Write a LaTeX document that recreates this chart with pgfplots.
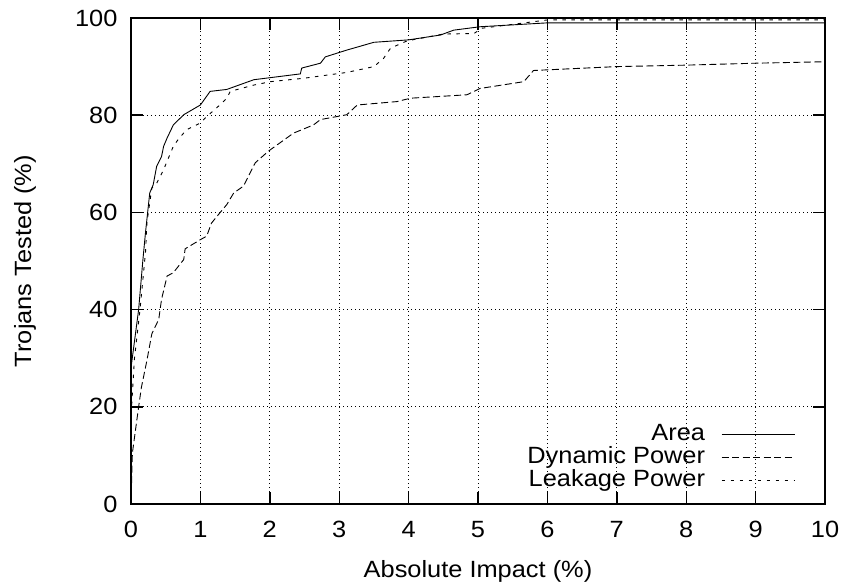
\documentclass[border=0pt]{standalone}
\usepackage{fontspec}
\setmainfont[FakeStretch=1.08]{Liberation Sans}
\usepackage{pgfplots}
\pgfplotsset{compat=1.18}
\newcommand{\bigf}{\fontsize{23.5}{28}\selectfont}
\begin{document}
\begin{tikzpicture}
\begin{axis}[
  scale only axis, width=694pt, height=486pt,
  xmin=0, xmax=10, ymin=0, ymax=100,
  xtick={0,1,...,10}, ytick={0,20,...,100},
  tick label style={font=\bigf},
  /pgf/number format/assume math mode=true,
  xticklabel style={yshift=-14pt},
  yticklabel style={xshift=-10pt},
  axis line style={line width=1.6pt},
  major tick length=12pt,
  tick style={line width=1.4pt, black},
  grid=major,
  major grid style={black, line width=0.9pt, dash pattern=on 1pt off 3pt},
  every axis x label/.style={at={(axis description cs:0.5,-0.1379)}, anchor=center, font=\bigf},
  every axis y label/.style={at={(axis description cs:-0.1527,0.5)}, rotate=90, anchor=center, font=\bigf},
  xlabel={Absolute Impact (\%)},
  ylabel={Trojans Tested (\%)},
  legend plot pos=right,
  legend cell align=right,
  legend style={at={(1,0)}, anchor=south east, xshift=-30pt, yshift=12pt,
    draw=none, fill=none, inner sep=0pt, outer sep=0pt, font=\bigf,
    nodes={inner ysep=0.5pt, inner xsep=0pt, text height=17pt, text depth=5pt}},
  legend image code/.code={\path (0pt,0pt); \draw[#1] (16pt,0pt) -- (89pt,0pt);},
]
\addplot[black, line width=0.9pt] coordinates {
(0,0) (0,28) (0.11,40) (0.17,50) (0.21,56) (0.27,64) (0.32,65.7) (0.37,69.5) (0.44,71.5) (0.47,73.6) (0.52,75.3) (0.61,78) (0.76,80.1) (1.0,82.1) (1.14,84.9) (1.38,85.3) (1.77,87.3) (2.44,88.5) (2.46,89.7) (2.73,90.7) (2.8,92) (3.11,93.4) (3.5,95) (4.0,95.5) (4.46,96.5) (4.65,97.5) (5.03,98.2) (6.0,99.0) (10,99.0)
};
\addlegendentry{Area}
\addplot[black, line width=0.9pt, dash pattern=on 7pt off 3.5pt] coordinates {
(0,0) (0.02,10.5) (0.11,20) (0.15,24) (0.23,29.6) (0.3,35) (0.4,38) (0.44,42.1) (0.52,46.9) (0.61,47.6) (0.76,50.3) (0.78,52.5) (1.0,54.4) (1.09,55.1) (1.16,57.8) (1.28,59.9) (1.38,61.6) (1.48,64) (1.62,65.4) (1.69,67.4) (1.79,70.2) (1.98,72.6) (2.34,76.3) (2.63,78) (2.73,79.1) (3.11,80.1) (3.26,82.1) (3.83,82.8) (4.03,83.5) (4.84,84.2) (5.03,85.5) (5.66,86.9) (5.8,89.2) (7.0,90.0) (8.0,90.3) (9.0,90.7) (10,91.0)
};
\addlegendentry{Dynamic Power}
\addplot[black, line width=0.9pt, dash pattern=on 3.5pt off 5.5pt] coordinates {
(0,0) (0,18) (0.05,30) (0.13,40) (0.21,52) (0.23,58) (0.3,65) (0.37,66) (0.47,68.8) (0.54,71.2) (0.61,73.6) (0.68,75) (0.8,77) (1.0,78.4) (1.09,79.7) (1.28,82.1) (1.38,83.5) (1.43,84.9) (1.77,86.2) (2.01,86.9) (2.49,87.6) (3.11,88.8) (3.5,90) (3.64,91.7) (3.74,93.8) (3.98,95.3) (4.5,96.7) (4.94,96.8) (5.06,97.9) (6.0,99.6) (10,99.6)
};
\addlegendentry{Leakage Power}
\end{axis}
\pgfresetboundingbox
\path[use as bounding box] (-131pt,-80pt) rectangle (717pt,504pt);
\end{tikzpicture}
\end{document}
